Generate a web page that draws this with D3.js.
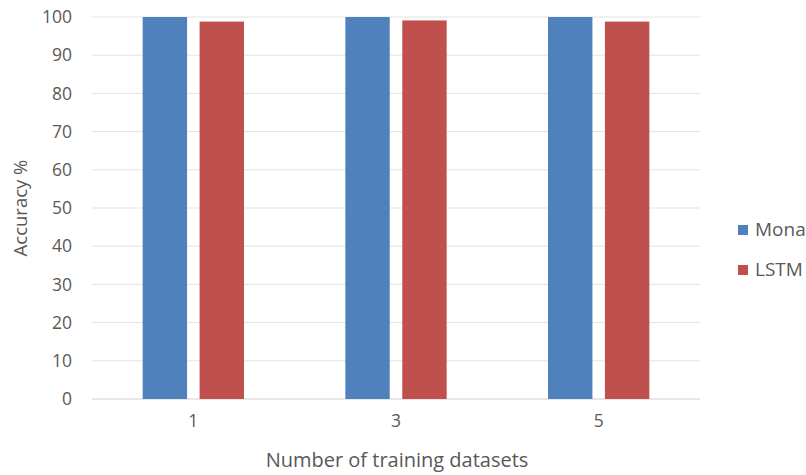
<!DOCTYPE html>
<html><head><meta charset="utf-8">
<script src="https://cdn.jsdelivr.net/npm/d3@7"></script>
<style>body{margin:0;background:#fff;} text{font-family:"Open Sans",Lato,sans-serif;fill:#595959;}</style>
</head><body><svg id="c" width="806" height="475"></svg>
<script>
const categories = ["1","3","5"];
const seriesNames = ["Mona","LSTM"];
const monaValues = [100, 100, 100];
const lstmValues = [98.8, 99.1, 98.8];
const yTicks = [0,10,20,30,40,50,60,70,80,90,100];
const colors = ["#4F81BD","#C0504D"];

const svg = d3.select("#c");
const L=92, R=700, T=17, B=399;
const x = d3.scaleBand().domain(categories).range([L,R]).paddingInner(0.5).paddingOuter(0.25);
const x1 = d3.scaleBand().domain(seriesNames).range([0,x.bandwidth()]).paddingInner(0.22);
const y = d3.scaleLinear().domain([0,100]).range([B,T]);

const g = svg.append("g");
g.selectAll("line.grid").data(yTicks).join("line")
 .attr("x1",L).attr("x2",R).attr("y1",d=>y(d)).attr("y2",d=>y(d))
 .attr("stroke",d=>d===0?"#d0d0d0":"#e3e3e3").attr("stroke-width",1);

const yAxis = d3.axisLeft(y).tickValues(yTicks).tickSize(0).tickPadding(20);
const ya = svg.append("g").attr("transform",`translate(${L},0)`).call(yAxis);
ya.select(".domain").remove();
ya.selectAll("text").attr("font-size",17.5).style("fill","#595959").attr("font-family","Open Sans");

const xAxis = d3.axisBottom(x).tickSize(0).tickPadding(16);
const xa = svg.append("g").attr("transform",`translate(0,${B})`).call(xAxis);
xa.select(".domain").remove();
xa.selectAll("text").attr("font-size",17.5).style("fill","#595959").attr("font-family","Open Sans");

const data = categories.map((c,i)=>({c, vals:[monaValues[i], lstmValues[i]]}));
data.forEach(d=>{
  d.vals.forEach((v,j)=>{
    svg.append("rect").attr("x",x(d.c)+x1(seriesNames[j])).attr("width",x1.bandwidth())
      .attr("y",y(v)).attr("height",B-y(v)).attr("fill",colors[j]);
  });
});

svg.append("text").attr("x",397).attr("y",467).attr("text-anchor","middle")
 .attr("font-size",20).text("Number of training datasets");
svg.append("text").attr("transform","translate(27,208) rotate(-90)").attr("text-anchor","middle")
 .attr("font-size",18.5).text("Accuracy %");

const leg = svg.append("g");
seriesNames.forEach((s,i)=>{
  const yy = 230 + i*40;
  leg.append("rect").attr("x",738).attr("y",yy-5).attr("width",10).attr("height",10).attr("fill",colors[i]);
  leg.append("text").attr("x",755).attr("y",yy+6).attr("font-size",19).text(s);
});
</script></body></html>
